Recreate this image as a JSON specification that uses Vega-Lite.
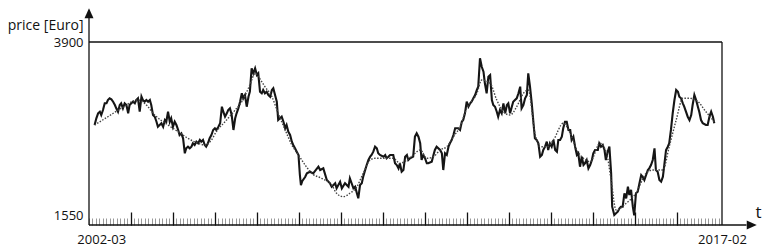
{
  "$schema": "https://vega.github.io/schema/vega-lite/v6.json",
  "width": 633,
  "height": 173,
  "autosize": {"type": "none"},
  "padding": {"left": 89, "top": 42, "right": 50, "bottom": 36},
  "background": "white",
  "config": {
    "view": {"stroke": null},
    "font": "Open Sans",
    "axis": {"labelFont": "Open Sans", "titleFont": "Open Sans", "labelColor": "#111", "titleColor": "#111", "grid": false, "domain": false}
  },
  "datasets": {
    "price": [
      {"t":1.6,"p":2772},{"t":2.1,"p":2863},{"t":2.6,"p":2931},{"t":3.1,"p":2953},{"t":3.5,"p":2908},{"t":4.0,"p":2976},{"t":4.5,"p":3067},{"t":5.0,"p":3067},{"t":5.4,"p":3112},{"t":5.9,"p":3135},
      {"t":6.4,"p":3122},{"t":6.9,"p":3089},{"t":7.4,"p":3044},{"t":7.8,"p":2999},{"t":8.3,"p":2953},{"t":8.8,"p":3044},{"t":9.2,"p":3067},{"t":9.7,"p":2999},{"t":10.2,"p":3067},{"t":10.7,"p":3044},
      {"t":11.2,"p":2931},{"t":11.6,"p":3044},{"t":12.1,"p":3067},{"t":12.6,"p":3089},{"t":13.1,"p":3067},{"t":13.5,"p":3112},{"t":14.0,"p":3135},{"t":14.5,"p":2953},{"t":15.0,"p":3157},{"t":15.4,"p":3112},
      {"t":15.9,"p":3089},{"t":16.4,"p":3112},{"t":16.9,"p":3089},{"t":17.4,"p":3112},{"t":17.8,"p":3044},{"t":18.3,"p":2908},{"t":18.8,"p":2885},{"t":19.3,"p":2817},{"t":19.7,"p":2749},{"t":20.2,"p":2772},
      {"t":20.7,"p":2796},{"t":21.2,"p":2749},{"t":21.7,"p":2840},{"t":22.1,"p":2817},{"t":22.6,"p":2953},{"t":23.1,"p":2817},{"t":23.5,"p":2863},{"t":24.0,"p":2749},{"t":24.5,"p":2817},{"t":25.0,"p":2772},
      {"t":25.5,"p":2705},{"t":25.9,"p":2637},{"t":26.4,"p":2660},{"t":26.9,"p":2592},{"t":27.4,"p":2388},{"t":27.8,"p":2456},{"t":28.3,"p":2478},{"t":28.8,"p":2456},{"t":29.3,"p":2478},{"t":29.7,"p":2524},
      {"t":30.2,"p":2501},{"t":30.7,"p":2546},{"t":31.2,"p":2524},{"t":31.7,"p":2569},{"t":32.1,"p":2546},{"t":32.6,"p":2569},{"t":33.1,"p":2501},{"t":33.5,"p":2478},{"t":34.0,"p":2524},{"t":34.5,"p":2592},
      {"t":35.0,"p":2637},{"t":35.5,"p":2705},{"t":36.0,"p":2728},{"t":36.4,"p":2705},{"t":37.0,"p":2749},{"t":37.5,"p":2796},{"t":38.0,"p":3021},{"t":38.4,"p":2953},{"t":38.9,"p":2885},{"t":39.4,"p":2931},
      {"t":39.8,"p":2976},{"t":40.3,"p":2999},{"t":40.8,"p":2908},{"t":41.3,"p":2705},{"t":41.8,"p":2863},{"t":42.2,"p":2931},{"t":42.7,"p":2999},{"t":43.2,"p":3089},{"t":43.7,"p":3203},{"t":44.1,"p":3135},
      {"t":44.6,"p":3180},{"t":45.1,"p":3021},{"t":45.6,"p":3157},{"t":46.0,"p":3225},{"t":46.5,"p":3543},{"t":47.0,"p":3475},{"t":47.5,"p":3543},{"t":48.0,"p":3452},{"t":48.4,"p":3475},{"t":48.9,"p":3225},
      {"t":49.4,"p":3203},{"t":49.8,"p":3248},{"t":50.3,"p":3203},{"t":50.8,"p":3225},{"t":51.3,"p":3180},{"t":51.8,"p":3157},{"t":52.3,"p":3248},{"t":52.7,"p":3271},{"t":53.2,"p":3180},{"t":53.7,"p":3089},
      {"t":54.1,"p":2840},{"t":54.6,"p":2863},{"t":55.1,"p":2885},{"t":55.6,"p":2817},{"t":56.1,"p":2728},{"t":56.5,"p":2772},{"t":57.0,"p":2681},{"t":57.5,"p":2637},{"t":58.0,"p":2546},{"t":58.4,"p":2501},
      {"t":58.9,"p":2456},{"t":59.4,"p":2410},{"t":59.9,"p":2365},{"t":60.3,"p":2093},{"t":60.6,"p":1957},{"t":61.0,"p":2012},{"t":61.8,"p":2066},{"t":62.3,"p":2116},{"t":63.2,"p":2138},{"t":64.1,"p":2116},
      {"t":65.6,"p":2206},{"t":66.1,"p":2161},{"t":67.0,"p":2184},{"t":68.0,"p":2025},{"t":68.9,"p":1981},{"t":69.4,"p":1934},{"t":70.4,"p":1981},{"t":70.8,"p":1913},{"t":71.8,"p":2002},{"t":72.3,"p":1913},
      {"t":73.2,"p":1981},{"t":74.2,"p":1934},{"t":74.6,"p":2048},{"t":75.1,"p":1981},{"t":75.6,"p":1913},{"t":76.1,"p":1934},{"t":76.6,"p":1845},{"t":77.0,"p":1777},{"t":77.5,"p":1957},{"t":78.0,"p":1981},
      {"t":78.4,"p":2070},{"t":79.4,"p":2229},{"t":79.9,"p":2297},{"t":80.4,"p":2342},{"t":80.8,"p":2365},{"t":81.3,"p":2410},{"t":81.8,"p":2478},{"t":82.3,"p":2456},{"t":82.7,"p":2388},{"t":83.2,"p":2365},
      {"t":84.2,"p":2342},{"t":84.7,"p":2365},{"t":85.1,"p":2320},{"t":85.6,"p":2342},{"t":86.1,"p":2365},{"t":87.0,"p":2365},{"t":87.5,"p":2252},{"t":88.0,"p":2229},{"t":88.5,"p":2184},{"t":88.9,"p":2252},
      {"t":89.4,"p":2138},{"t":89.9,"p":2161},{"t":90.4,"p":2342},{"t":90.9,"p":2365},{"t":91.3,"p":2297},{"t":91.8,"p":2320},{"t":92.7,"p":2342},{"t":93.2,"p":2614},{"t":93.7,"p":2660},{"t":94.2,"p":2614},
      {"t":94.7,"p":2524},{"t":95.1,"p":2297},{"t":95.6,"p":2365},{"t":96.1,"p":2320},{"t":96.6,"p":2252},{"t":97.0,"p":2252},{"t":98.0,"p":2274},{"t":98.5,"p":2365},{"t":98.9,"p":2433},{"t":99.4,"p":2478},
      {"t":100.4,"p":2433},{"t":100.9,"p":2388},{"t":101.3,"p":2161},{"t":101.8,"p":2388},{"t":102.3,"p":2365},{"t":102.8,"p":2478},{"t":103.2,"p":2524},{"t":103.7,"p":2569},{"t":104.2,"p":2637},{"t":104.7,"p":2728},
      {"t":105.2,"p":2728},{"t":105.6,"p":2728},{"t":106.1,"p":2705},{"t":106.6,"p":2817},{"t":107.0,"p":2840},{"t":107.5,"p":2931},{"t":108.0,"p":3089},{"t":108.5,"p":3021},{"t":109.0,"p":3067},{"t":109.4,"p":3089},
      {"t":109.9,"p":3135},{"t":110.4,"p":3180},{"t":110.9,"p":3248},{"t":111.3,"p":3293},{"t":111.8,"p":3679},{"t":112.3,"p":3564},{"t":112.8,"p":3497},{"t":113.2,"p":3339},{"t":113.7,"p":3203},{"t":114.2,"p":3429},
      {"t":114.7,"p":3452},{"t":115.2,"p":3112},{"t":115.6,"p":3044},{"t":116.1,"p":3021},{"t":116.6,"p":2953},{"t":117.0,"p":2885},{"t":117.5,"p":2976},{"t":118.0,"p":2931},{"t":118.5,"p":3067},{"t":119.0,"p":2931},
      {"t":119.5,"p":3044},{"t":119.9,"p":3067},{"t":120.4,"p":2931},{"t":120.9,"p":3021},{"t":121.3,"p":3089},{"t":121.8,"p":3112},{"t":122.3,"p":3135},{"t":122.8,"p":3203},{"t":123.3,"p":3293},{"t":123.7,"p":2999},
      {"t":124.2,"p":3044},{"t":124.7,"p":3135},{"t":125.2,"p":3180},{"t":125.6,"p":3475},{"t":126.1,"p":3293},{"t":126.6,"p":3067},{"t":127.1,"p":2796},{"t":127.5,"p":2592},{"t":128.0,"p":2569},{"t":128.5,"p":2524},
      {"t":129.0,"p":2342},{"t":129.5,"p":2365},{"t":129.9,"p":2433},{"t":130.4,"p":2478},{"t":130.9,"p":2546},{"t":131.3,"p":2433},{"t":131.8,"p":2524},{"t":132.3,"p":2478},{"t":132.8,"p":2569},{"t":133.3,"p":2433},
      {"t":133.8,"p":2410},{"t":134.2,"p":2569},{"t":134.7,"p":2569},{"t":135.2,"p":2614},{"t":135.6,"p":2728},{"t":136.1,"p":2817},{"t":136.6,"p":2817},{"t":137.1,"p":2705},{"t":137.6,"p":2705},{"t":138.0,"p":2569},
      {"t":138.5,"p":2614},{"t":139.0,"p":2478},{"t":139.5,"p":2365},{"t":139.9,"p":2388},{"t":140.4,"p":2206},{"t":140.9,"p":2342},{"t":141.4,"p":2229},{"t":141.8,"p":2252},{"t":142.3,"p":2297},{"t":142.8,"p":2184},
      {"t":143.3,"p":2229},{"t":143.8,"p":2297},{"t":144.2,"p":2388},{"t":144.7,"p":2433},{"t":145.5,"p":2433},{"t":145.9,"p":2524},{"t":146.4,"p":2478},{"t":146.9,"p":2501},{"t":147.4,"p":2433},{"t":147.8,"p":2297},
      {"t":148.3,"p":2410},{"t":148.8,"p":2478},{"t":149.3,"p":2116},{"t":149.6,"p":1663},{"t":150.2,"p":1550},{"t":150.7,"p":1573},{"t":151.2,"p":1595},{"t":151.7,"p":1641},{"t":152.1,"p":1663},{"t":152.6,"p":1663},
      {"t":153.1,"p":1845},{"t":153.6,"p":1777},{"t":154.1,"p":1934},{"t":154.5,"p":1822},{"t":155.0,"p":1890},{"t":155.5,"p":1663},{"t":155.9,"p":1545},{"t":156.4,"p":1845},{"t":156.9,"p":1867},{"t":157.4,"p":1981},
      {"t":157.9,"p":2093},{"t":158.3,"p":2070},{"t":158.8,"p":2025},{"t":159.3,"p":2093},{"t":159.8,"p":2161},{"t":160.2,"p":2184},{"t":160.7,"p":2229},{"t":161.2,"p":2297},{"t":161.7,"p":2456},{"t":162.1,"p":2161},
      {"t":162.6,"p":2138},{"t":163.1,"p":2025},{"t":163.6,"p":2002},{"t":164.1,"p":2070},{"t":164.5,"p":2229},{"t":165.0,"p":2433},{"t":165.5,"p":2478},{"t":165.9,"p":2524},{"t":166.4,"p":2705},{"t":166.9,"p":2931},
      {"t":167.4,"p":3112},{"t":167.9,"p":3248},{"t":168.4,"p":3225},{"t":168.8,"p":3157},{"t":169.3,"p":3135},{"t":169.8,"p":3067},{"t":170.2,"p":3021},{"t":170.7,"p":2953},{"t":171.2,"p":2885},{"t":171.7,"p":2840},
      {"t":172.2,"p":2908},{"t":172.6,"p":3044},{"t":173.1,"p":3180},{"t":173.6,"p":3112},{"t":174.1,"p":3021},{"t":174.5,"p":2953},{"t":175.0,"p":2840},{"t":175.5,"p":2796},{"t":176.4,"p":2772},{"t":176.9,"p":2772},
      {"t":177.4,"p":2885},{"t":177.9,"p":2953},{"t":178.4,"p":2885},{"t":178.8,"p":2796}
    ],
    "avg": [
      {"t":1.6,"p":2772},{"t":5.4,"p":2885},{"t":9.2,"p":2999},{"t":14.0,"p":3112},{"t":15.9,"p":3067},{"t":18.8,"p":2908},{"t":22.6,"p":2772},{"t":25.5,"p":2681},{"t":28.3,"p":2592},{"t":31.2,"p":2524},
      {"t":33.1,"p":2501},{"t":35.0,"p":2569},{"t":36.4,"p":2681},{"t":38.9,"p":2817},{"t":41.8,"p":2976},{"t":43.7,"p":3089},{"t":46.0,"p":3316},{"t":47.5,"p":3475},{"t":48.4,"p":3429},{"t":50.3,"p":3293},
      {"t":52.3,"p":3157},{"t":54.1,"p":2931},{"t":56.1,"p":2705},{"t":58.0,"p":2501},{"t":59.9,"p":2365},{"t":61.8,"p":2229},{"t":63.7,"p":2116},{"t":66.5,"p":2048},{"t":69.4,"p":1957},{"t":70.8,"p":1845},
      {"t":72.7,"p":1799},{"t":74.6,"p":1845},{"t":76.6,"p":1934},{"t":78.4,"p":2116},{"t":80.4,"p":2297},{"t":81.8,"p":2320},{"t":84.2,"p":2320},{"t":87.0,"p":2320},{"t":88.9,"p":2252},{"t":90.9,"p":2297},
      {"t":92.7,"p":2365},{"t":94.7,"p":2433},{"t":96.6,"p":2320},{"t":98.5,"p":2342},{"t":100.4,"p":2433},{"t":102.3,"p":2478},{"t":104.2,"p":2614},{"t":106.1,"p":2749},{"t":108.0,"p":2999},{"t":110.9,"p":3203},
      {"t":112.3,"p":3384},{"t":114.7,"p":3339},{"t":116.6,"p":3112},{"t":118.5,"p":2953},{"t":120.4,"p":2908},{"t":122.3,"p":3021},{"t":124.2,"p":3203},{"t":125.6,"p":3248},{"t":127.5,"p":2660},{"t":129.0,"p":2478},
      {"t":130.9,"p":2478},{"t":132.8,"p":2569},{"t":135.6,"p":2796},{"t":137.6,"p":2660},{"t":139.5,"p":2433},{"t":141.4,"p":2320},{"t":143.3,"p":2274},{"t":146.1,"p":2524},{"t":148.0,"p":2388},{"t":149.3,"p":2025},
      {"t":150.7,"p":1618},{"t":153.6,"p":1709},{"t":156.4,"p":1845},{"t":159.3,"p":2116},{"t":161.2,"p":2161},{"t":164.1,"p":2161},{"t":165.9,"p":2478},{"t":167.9,"p":2840},{"t":169.8,"p":3135},{"t":171.7,"p":3135},
      {"t":173.6,"p":3112},{"t":176.4,"p":2953},{"t":178.8,"p":2817}
    ],
    "frame": [
      {"t1":0,"t2":0,"p1":1414,"p2":4260},
      {"t1":0,"t2":188,"p1":1414,"p2":1414},
      {"t1":0,"t2":181,"p1":3900,"p2":3900},
      {"t1":181,"t2":181,"p1":1414,"p2":3900}
    ]
  },
  "resolve": {"axis": {"x": "independent", "y": "independent"}},
  "layer": [
    {
      "data": {"name": "frame"},
      "mark": {"type": "rule", "color": "#111", "strokeWidth": 1.3},
      "encoding": {
        "x": {"field": "t1", "type": "quantitative", "scale": {"domain": [0, 181], "nice": false, "zero": false},
          "axis": {"orient": "bottom", "offset": 10, "title": null, "labels": false, "tickSize": -7, "tickColor": "#999", "tickWidth": 1,
            "values": [0,1,2,3,4,5,6,7,8,9,10,11,12,13,14,15,16,17,18,19,20,21,22,23,24,25,26,27,28,29,30,31,32,33,34,35,36,37,38,39,40,41,42,43,44,45,46,47,48,49,50,51,52,53,54,55,56,57,58,59,60,61,62,63,64,65,66,67,68,69,70,71,72,73,74,75,76,77,78,79,80,81,82,83,84,85,86,87,88,89,90,91,92,93,94,95,96,97,98,99,100,101,102,103,104,105,106,107,108,109,110,111,112,113,114,115,116,117,118,119,120,121,122,123,124,125,126,127,128,129,130,131,132,133,134,135,136,137,138,139,140,141,142,143,144,145,146,147,148,149,150,151,152,153,154,155,156,157,158,159,160,161,162,163,164,165,166,167,168,169,170,171,172,173,174,175,176,177,178,179,180]}},
        "x2": {"field": "t2"},
        "y": {"field": "p1", "type": "quantitative", "scale": {"domain": [1550, 3900], "nice": false, "zero": false},
          "axis": {"orient": "left", "values": [1550, 3900], "format": "d", "ticks": false, "labelPadding": 6, "labelFontSize": 13, "labelOverlap": false,
            "title": "price [Euro]", "titleAngle": 0, "titleAlign": "right", "titleBaseline": "middle", "titleX": -6, "titleY": -17, "titleFontSize": 14, "titleFontWeight": "normal"}},
        "y2": {"field": "p2"}
      }
    },
    {
      "data": {"name": "price"},
      "mark": {"type": "line", "color": "#151515", "strokeWidth": 2.1, "strokeJoin": "miter"},
      "encoding": {
        "x": {"field": "t", "type": "quantitative",
          "axis": {"orient": "bottom", "offset": 10, "title": null, "labels": false, "tickSize": -13, "tickColor": "#111", "tickWidth": 1.3,
            "values": [12,24,36,48,60,72,84,96,108,120,132,144,156,168]}},
        "y": {"field": "p", "type": "quantitative", "axis": null}
      }
    },
    {
      "data": {"name": "avg"},
      "mark": {"type": "line", "color": "#444", "strokeWidth": 1.4, "strokeDash": [1.5, 1.5], "interpolate": "monotone"},
      "encoding": {
        "x": {"field": "t", "type": "quantitative",
          "axis": {"orient": "bottom", "offset": 10, "values": [3.5, 181], "labelExpr": "datum.value < 10 ? '2002-03' : '2017-02'", "ticks": false,
            "labelPadding": 8, "labelFontSize": 13, "labelFlush": false, "labelOverlap": false,
            "title": "t", "titleFontSize": 17, "titleFontWeight": "normal", "titleX": 666, "titleY": -8, "titleAlign": "left", "titleBaseline": "alphabetic"}},
        "y": {"field": "p", "type": "quantitative", "axis": null}
      }
    },
    {
      "data": {"values": [{"t": 0, "p": 4290}]},
      "mark": {"type": "point", "shape": "M0,-1L-0.9,1L0.9,1Z", "filled": true, "color": "#111", "opacity": 1, "size": 100},
      "encoding": {
        "x": {"field": "t", "type": "quantitative", "axis": null},
        "y": {"field": "p", "type": "quantitative", "axis": null}
      }
    },
    {
      "data": {"values": [{"t": 189.5, "p": 1414}]},
      "mark": {"type": "point", "shape": "M1,0L-1,-0.9L-1,0.9Z", "filled": true, "color": "#111", "opacity": 1, "size": 100},
      "encoding": {
        "x": {"field": "t", "type": "quantitative", "axis": null},
        "y": {"field": "p", "type": "quantitative", "axis": null}
      }
    }
  ]
}
